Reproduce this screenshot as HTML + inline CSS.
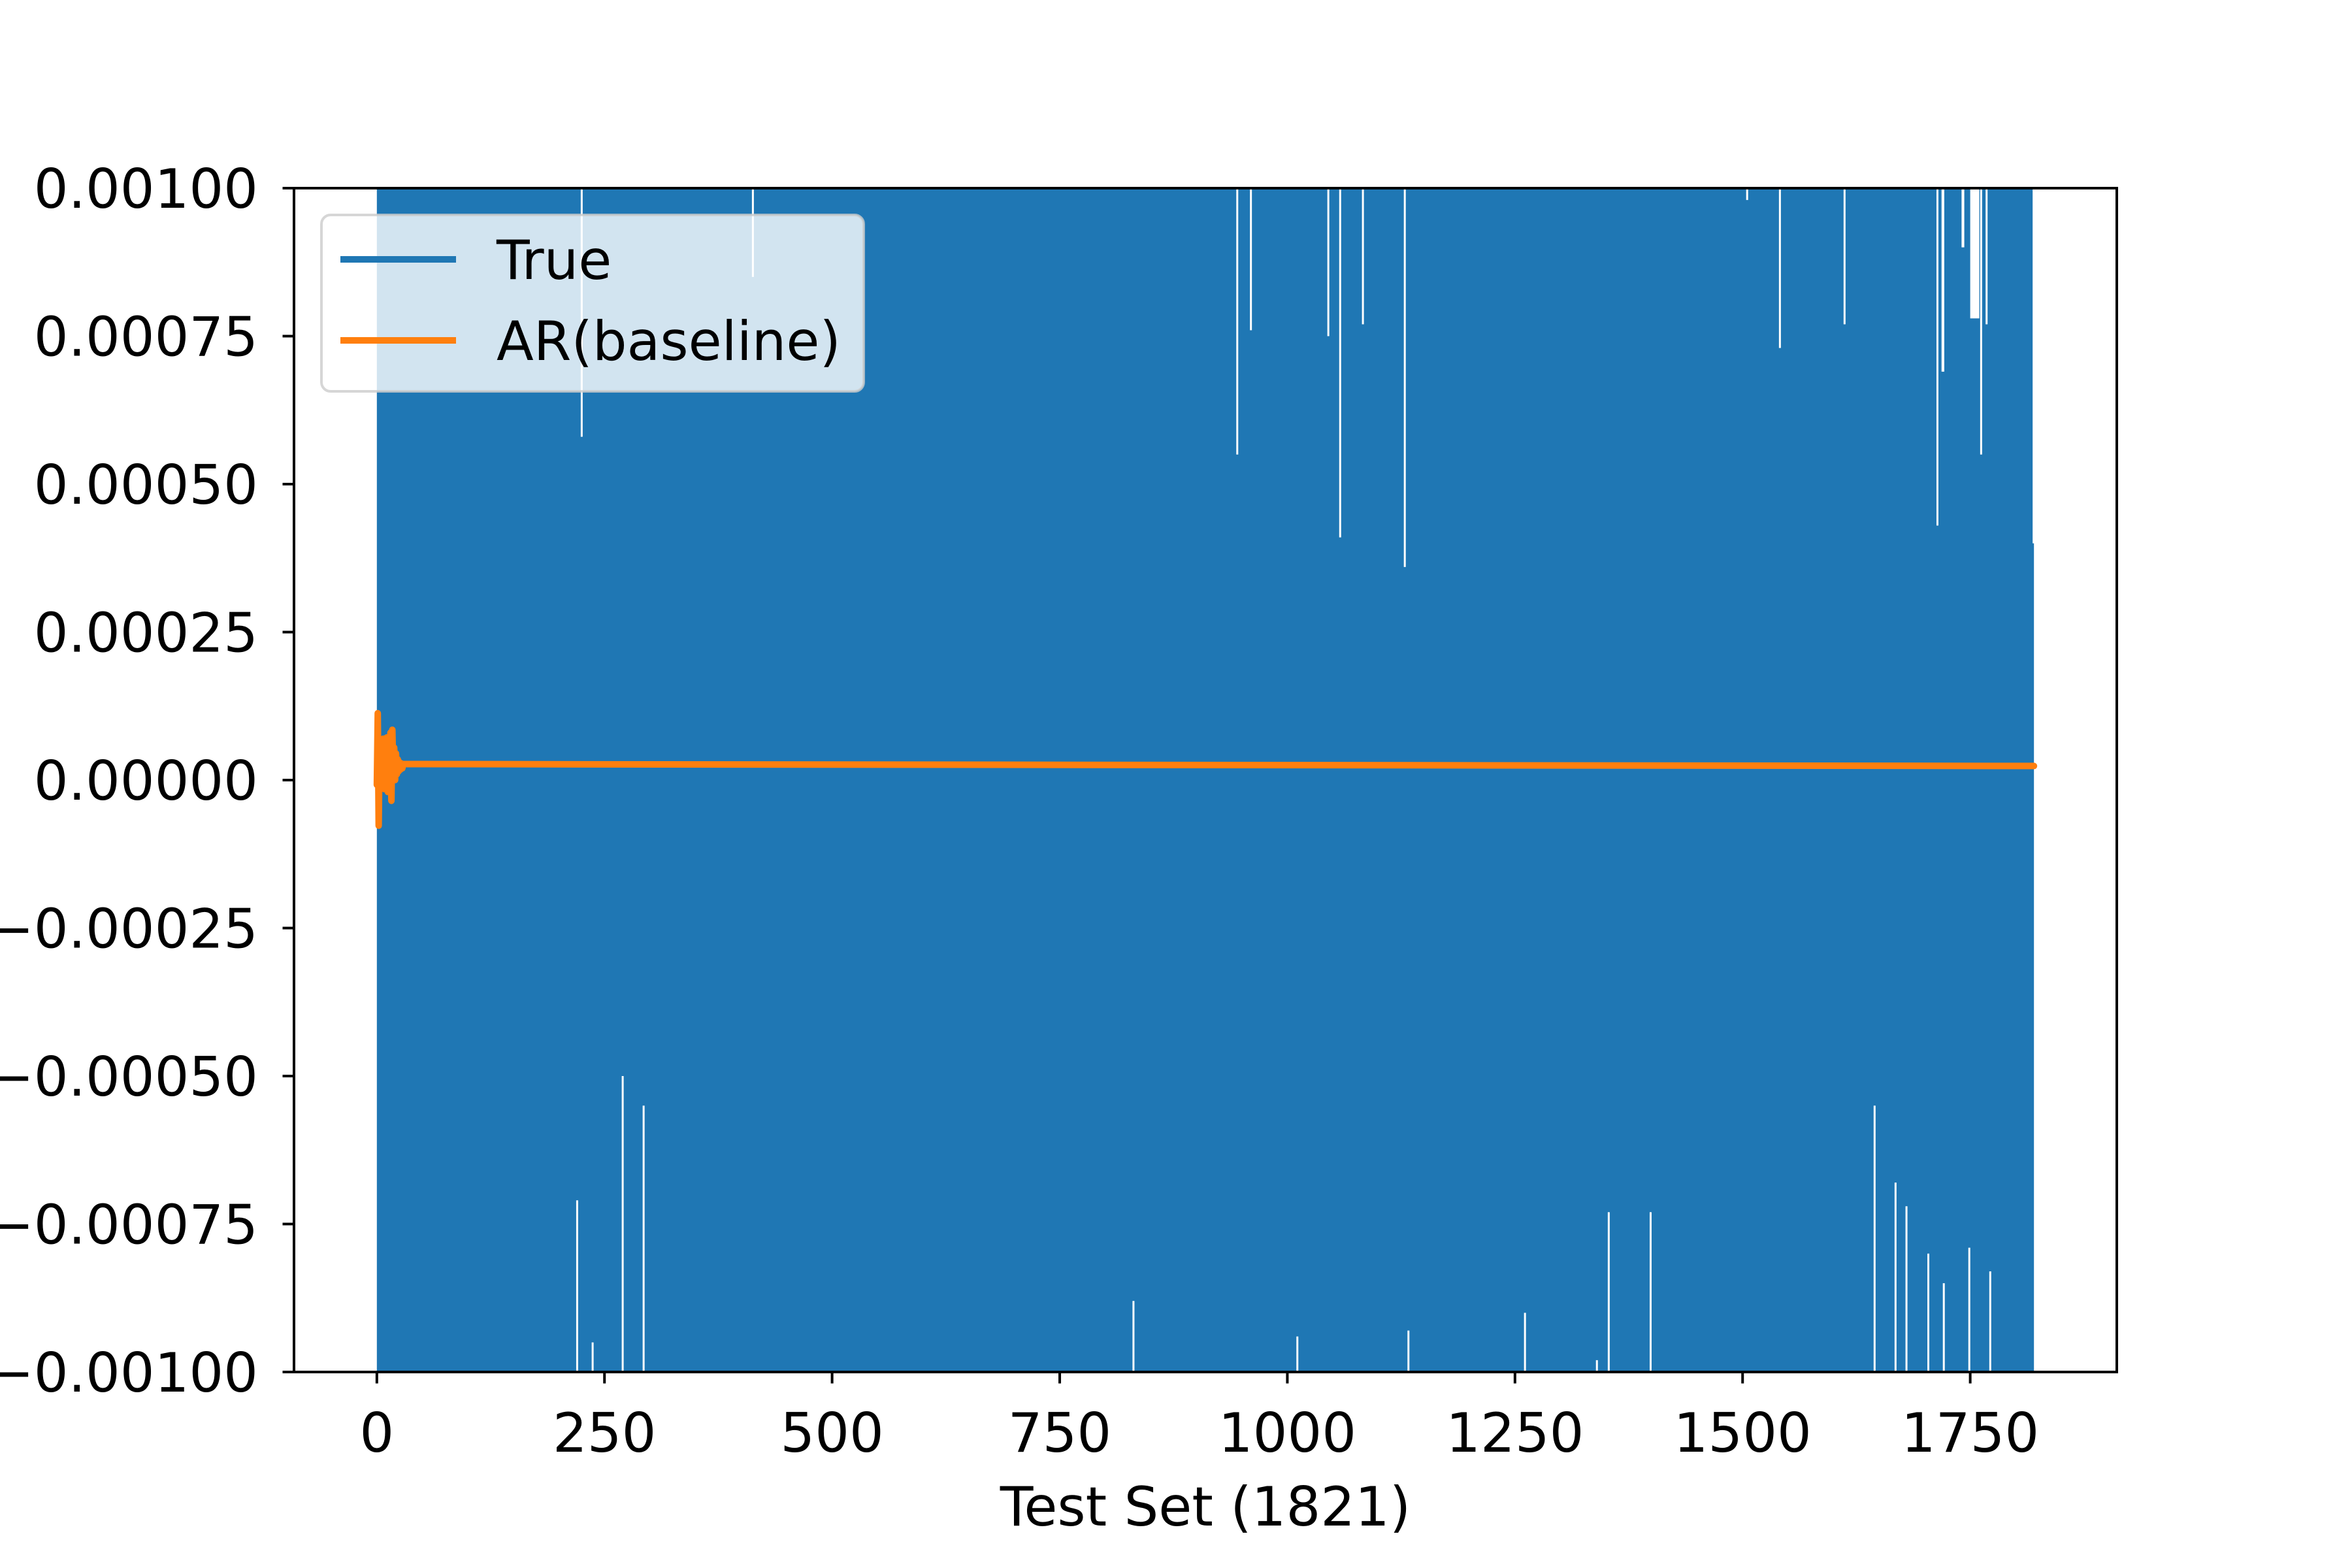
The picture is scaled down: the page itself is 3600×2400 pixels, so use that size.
<!DOCTYPE html>
<html><head><meta charset="utf-8"><style>
html,body{margin:0;padding:0;background:#fff;width:3600px;height:2400px;overflow:hidden}
svg text{font-family:"DejaVu Sans","Liberation Sans",sans-serif;fill:#000}
</style></head><body>
<svg id="chart" width="3600" height="2400" viewBox="0 0 3600 2400" xmlns="http://www.w3.org/2000/svg">
<rect width="3600" height="2400" fill="#fff"/>
<g id="plot"></g>
<g id="axes"></g>
</svg>
<script>
// ---- data ----
const xTicks = [0, 250, 500, 750, 1000, 1250, 1500, 1750];
const yTicks = [-0.001, -0.00075, -0.0005, -0.00025, 0, 0.00025, 0.0005, 0.00075, 0.001];
const yTickLabels = ["\u22120.00100","\u22120.00075","\u22120.00050","\u22120.00025","0.00000","0.00025","0.00050","0.00075","0.00100"];
const trueCount = 1821;
// white gaps in the dense True series: index, limit value reached, side (1 = top gap, -1 = bottom gap), span in samples
const topGapIdx =   [225, 413, 945, 960, 1045, 1058, 1083, 1129, 1505, 1541, 1612, 1714, 1720, 1742, 1755, 1762, 1768];
const topGapVal =   [0.00058, 0.00085, 0.00055, 0.00076, 0.00075, 0.00041, 0.00077, 0.00036, 0.00098, 0.00073, 0.00077, 0.00043, 0.00069, 0.00090, 0.00078, 0.00055, 0.00077];
const topGapSpan =  [2, 1, 1, 2, 1, 2, 1, 1, 2, 1, 1, 1, 3, 3, 10, 2, 2];
const botGapIdx =   [220, 237, 270, 293, 831, 1011, 1133, 1261, 1340, 1353, 1399, 1645, 1668, 1680, 1704, 1721, 1749, 1772];
const botGapVal =   [-0.00071, -0.00095, -0.00050, -0.00055, -0.00088, -0.00094, -0.00093, -0.00090, -0.00098, -0.00073, -0.00073, -0.00055, -0.00068, -0.00072, -0.00080, -0.00085, -0.00079, -0.00083];
const botGapSpan =  [1, 1, 2, 2, 1, 1, 2, 1, 1, 1, 1, 1, 1, 2, 1, 2, 2, 1];
const trueEndVal = 0.00040;
const arHead = [-0.000008, 0.000113, -0.000077, 0.00006, 0.000005, 0.000062, -0.00001, 0.000070, -0.000015, 0.000050, 0.00001, 0.000072, -0.00002, 0.000060, 0.000000, 0.000080, -0.000035, 0.000085, 0.00001, 0.000055, 0.000000, 0.000045, 0.000010, 0.000035, 0.000015, 0.000030, 0.000018, 0.000028, 0.000020, 0.000027];
const arTail = 0.0000238;
const arCount = 1821;

// ---- scales ----
const L=450, R=3240, T=288, B=2100;
const xMin=-91, xMax=1911, yMin=-0.001, yMax=0.001;
const xs = v => L + (v - xMin) / (xMax - xMin) * (R - L);
const ys = v => B - (v - yMin) / (yMax - yMin) * (B - T);
const NS="http://www.w3.org/2000/svg";
function mk(tag, attrs, parent){const e=document.createElementNS(NS,tag);for(const k in attrs)e.setAttribute(k,attrs[k]);parent.appendChild(e);return e;}
const plot=document.getElementById('plot'), axes=document.getElementById('axes');

mk('clipPath',{id:'clip'},plot);
mk('rect',{x:L,y:T,width:R-L,height:B-T},document.getElementById('clip'));
const clipG = mk('g',{'clip-path':'url(#clip)'},plot);



// True series (dense oscillation filling the range)
const trueBand = mk('rect',{x:xs(0),y:T,width:xs(trueCount-1)-xs(0),height:B-T,fill:'#1f77b4'},clipG);


const endCut = mk('rect',{x:xs(trueCount-1)-2,y:T,width:8,height:ys(trueEndVal)-T,fill:'#fff'},clipG);


for(let i=0;i<topGapIdx.length;i++){
  const w=Math.max(3, topGapSpan[i]*(xs(1)-xs(0)));
  const g=mk('rect',{x:xs(topGapIdx[i])-w/2,y:T,width:w,height:ys(topGapVal[i])-T,fill:'#fff'},clipG);
  
  
}
for(let i=0;i<botGapIdx.length;i++){
  const w=Math.max(3, botGapSpan[i]*(xs(1)-xs(0)));
  const y0=ys(botGapVal[i]);
  const g=mk('rect',{x:xs(botGapIdx[i])-w/2,y:y0,width:w,height:B-y0,fill:'#fff'},clipG);
  
  
}

// AR(baseline)
let d='';
for(let i=0;i<arCount;i++){
  const v = i<arHead.length ? arHead[i] : arTail;
  if(i<arHead.length || i===arCount-1) d += (d?'L':'M') + xs(i).toFixed(1)+' '+ys(v).toFixed(1);
}
const arLine = mk('path',{d:d,fill:'none',stroke:'#ff7f0e','stroke-width':10,'stroke-linejoin':'round','stroke-linecap':'round'},clipG);



// spines
const frame = mk('rect',{x:L,y:T,width:R-L,height:B-T,fill:'none',stroke:'#000','stroke-width':4},axes);



// x ticks
xTicks.forEach(t=>{
  const x=xs(t);
  const tk=mk('line',{x1:x,x2:x,y1:B,y2:B+17.5,stroke:'#000','stroke-width':4},axes);
  
  
  const lb=mk('text',{x:x,y:B+122,'text-anchor':'middle','font-size':83},axes);
  lb.textContent=String(t);
  
  
});
// y ticks
yTicks.forEach((t,i)=>{
  const y=ys(t);
  const tk=mk('line',{x1:L-17.5,x2:L,y1:y,y2:y,stroke:'#000','stroke-width':4},axes);
  
  
  const lb=mk('text',{x:395,y:y+30,'text-anchor':'end','font-size':83},axes);
  lb.textContent=yTickLabels[i];
  
  
});
const xl=mk('text',{x:(L+R)/2,y:2335,'text-anchor':'middle','font-size':83},axes);
xl.textContent='Test Set (1821)';



// legend
const lg=mk('g',{},axes);


const box=mk('rect',{x:492,y:329,width:830,height:270,rx:14,fill:'#fff','fill-opacity':0.8,stroke:'#cccccc','stroke-opacity':0.8,'stroke-width':4},lg);


const entries=[['True','#1f77b4',397],['AR(baseline)','#ff7f0e',521]];
entries.forEach(e=>{
  const ln=mk('line',{x1:521,x2:698,y1:e[2],y2:e[2],stroke:e[1],'stroke-width':10},lg);
  
  
  const tx=mk('text',{x:760,y:e[2]+30,'font-size':83},lg);
  tx.textContent=e[0];
  
  
});
</script>
</body></html>
